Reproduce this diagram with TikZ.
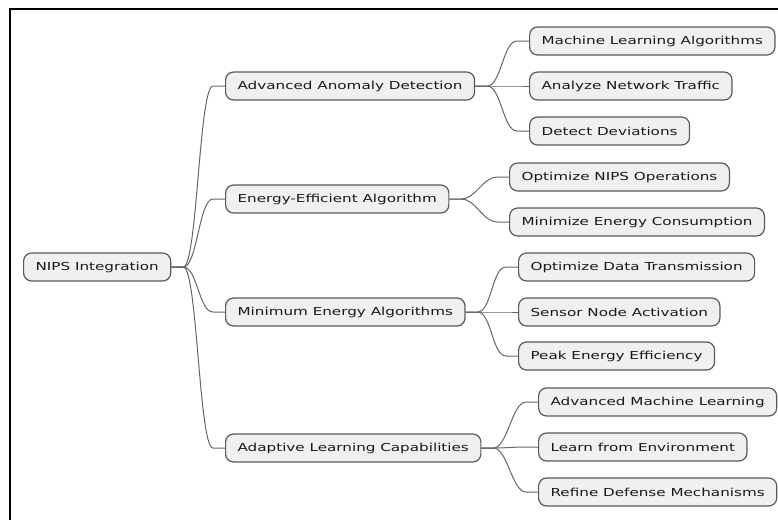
\documentclass[tikz,border=0pt]{standalone}
\usepackage{fontspec}
\setmainfont[FakeStretch=1.38]{DejaVu Sans}
\usetikzlibrary{calc, positioning}

\begin{document}
\begin{tikzpicture}[
    x=1pt, y=-1pt,
    topic/.style={draw=black!65, fill=black!6, rounded corners=8pt, line width=1.2pt,
        minimum height=28pt, inner xsep=12pt, anchor=west,
        font=\fontsize{11}{13}\selectfont, text=black!90},
    branch/.style={to path={-- ++(12,0) .. controls +(14,0) and +(-14,0) .. ($(\tikztotarget)+(-12,0)$) -- (\tikztotarget)}}
]

    % 1. Moldura
    \useasboundingbox (0,0) rectangle (778,520);
    \draw[line width=1.6pt] (778,9) -- (10,9) -- (10,520);

    % 2. Raiz e primeiro nivel
    \node[topic] (root) at (23,267) {NIPS Integration};
    \node[topic] (anomaly) at (225,86) {Advanced Anomaly Detection};
    \node[topic] (efficient) at (225,199) {Energy-Efficient Algorithm};
    \node[topic] (minimum) at (225,312) {Minimum Energy Algorithms};
    \node[topic] (adaptive) at (225,448) {Adaptive Learning Capabilities};

    % 3. Segundo nivel
    \node[topic] (mlalgo) at (529,41) {Machine Learning Algorithms};
    \node[topic] (traffic) at (529,86) {Analyze Network Traffic};
    \node[topic] (deviations) at (529,131) {Detect Deviations};

    \node[topic] (nipsops) at (509,177) {Optimize NIPS Operations};
    \node[topic] (consumption) at (509,222) {Minimize Energy Consumption};

    \node[topic] (transmission) at (518,267) {Optimize Data Transmission};
    \node[topic] (activation) at (518,312) {Sensor Node Activation};
    \node[topic] (peak) at (518,356) {Peak Energy Efficiency};

    \node[topic] (advml) at (538,402) {Advanced Machine Learning};
    \node[topic] (environment) at (538,447) {Learn from Environment};
    \node[topic] (defense) at (538,492) {Refine Defense Mechanisms};

    % 4. Ligacoes
    \draw[black!60, line width=1pt] (root.east) to[branch] (anomaly.west);
    \draw[black!60, line width=1pt] (root.east) to[branch] (efficient.west);
    \draw[black!60, line width=1pt] (root.east) to[branch] (minimum.west);
    \draw[black!60, line width=1pt] (root.east) to[branch] (adaptive.west);

    \draw[black!60, line width=1pt] (anomaly.east) to[branch] (mlalgo.west);
    \draw[black!60, line width=1pt] (anomaly.east) to[branch] (traffic.west);
    \draw[black!60, line width=1pt] (anomaly.east) to[branch] (deviations.west);

    \draw[black!60, line width=1pt] (efficient.east) to[branch] (nipsops.west);
    \draw[black!60, line width=1pt] (efficient.east) to[branch] (consumption.west);

    \draw[black!60, line width=1pt] (minimum.east) to[branch] (transmission.west);
    \draw[black!60, line width=1pt] (minimum.east) to[branch] (activation.west);
    \draw[black!60, line width=1pt] (minimum.east) to[branch] (peak.west);

    \draw[black!60, line width=1pt] (adaptive.east) to[branch] (advml.west);
    \draw[black!60, line width=1pt] (adaptive.east) to[branch] (environment.west);
    \draw[black!60, line width=1pt] (adaptive.east) to[branch] (defense.west);

\end{tikzpicture}
\end{document}
